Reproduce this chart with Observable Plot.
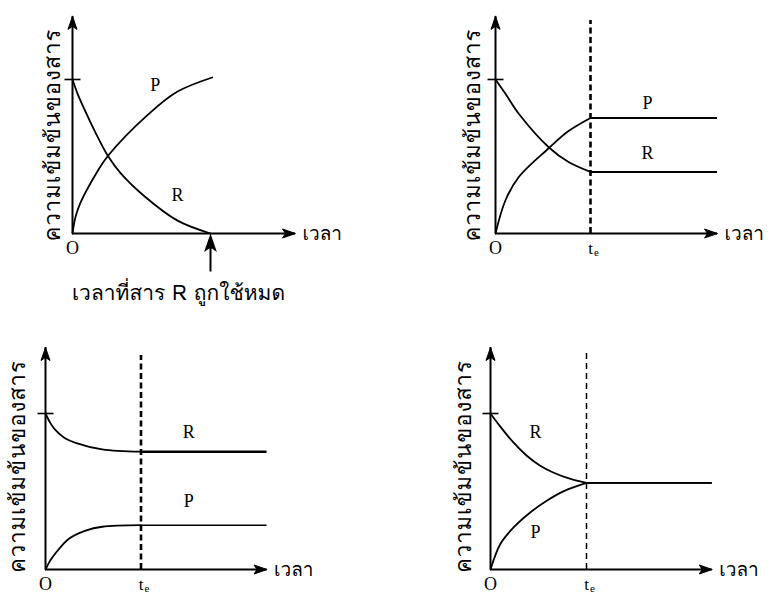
<!DOCTYPE html>
<html><head><meta charset="utf-8">
<script src="https://cdn.jsdelivr.net/npm/d3@7"></script>
<script src="https://cdn.jsdelivr.net/npm/@observablehq/plot@0.6"></script>
<style>
body{margin:0;background:#fff;}
#wrap{position:relative;width:768px;height:593px;overflow:hidden;background:#fff;}
#wrap > svg{position:absolute;}
</style></head><body><div id="wrap"></div>
<script>
// ---- texts ----
const yLabel = "ความเข้มข้นของสาร";
const xLabel = "เวลา";
const note1 = "เวลาที่สาร R ถูกใช้หมด";

// ---- data (time: t_e or time R used up = 1 ; concentration: initial [R] = 1) ----
// Panel 1: reaction goes to completion
const p1R_t = [0, 0.04, 0.1, 0.175, 0.256, 0.35, 0.517, 0.758, 1.0];
const p1R_c = [1, 0.9, 0.78, 0.64, 0.505, 0.39, 0.245, 0.085, 0];
const p1P_t = [0, 0.022, 0.058, 0.176, 0.256, 0.551, 0.758, 1.012];
const p1P_c = [0, 0.108, 0.2, 0.396, 0.503, 0.775, 0.92, 1.013];
// Panel 2: equilibrium, [P] > [R]
const p2R_t = [0, 0.105, 0.245, 0.566, 0.769, 1];
const p2R_c = [1, 0.907, 0.778, 0.557, 0.464, 0.40];
const p2P_t = [0, 0.105, 0.245, 0.566, 0.769, 1];
const p2P_c = [0, 0.216, 0.367, 0.557, 0.665, 0.75];
// Panel 3: equilibrium, [R] > [P]
const p3R_t = [0, 0.05, 0.105, 0.2, 0.315, 0.594, 1];
const p3R_c = [1, 0.94, 0.893, 0.843, 0.812, 0.77, 0.755];
const p3P_t = [0, 0.05, 0.105, 0.245, 0.42, 0.594, 1];
const p3P_c = [0, 0.058, 0.104, 0.197, 0.249, 0.274, 0.284];
// Panel 4: equilibrium, [R] = [P]
const p4R_t = [0, 0.097, 0.236, 0.375, 0.514, 0.653, 0.826, 1];
const p4R_c = [1, 0.92, 0.816, 0.731, 0.667, 0.622, 0.582, 0.555];
const p4P_t = [0, 0.104, 0.243, 0.417, 0.59, 0.764, 1];
const p4P_c = [0, 0.165, 0.271, 0.367, 0.442, 0.502, 0.555];

// label anchors [text, t, c]
const p1Labels = [["P", 0.6, 0.96], ["R", 0.76, 0.25]];
const p2Labels = [["P", 1.6, 0.844], ["R", 1.6, 0.518]];
const p3Labels = [["R", 1.5, 0.88], ["P", 1.5, 0.44]];
const p4Labels = [["R", 0.47, 0.88], ["P", 0.47, 0.24]];

const zip = (T, C) => T.map((t, i) => ({t, c: C[i]}));

// ---- symbols ----
const arrowHead = {draw(ctx){ ctx.moveTo(0,0); ctx.lineTo(4.5,13); ctx.lineTo(0,10); ctx.lineTo(-4.5,13); ctx.closePath(); }};
const longArrow = {draw(ctx){ ctx.moveTo(0,0); ctx.lineTo(4.5,13); ctx.lineTo(0,10); ctx.lineTo(-4.5,13); ctx.closePath(); ctx.moveTo(0,10); ctx.lineTo(0,35); }};
const tickMark = {draw(ctx){ ctx.moveTo(-8,0); ctx.lineTo(8,0); }};

const serif = "'Liberation Serif','DejaVu Serif',serif";
const thai = "'Norasi','Kinnari','Loma','Garuda','Noto Serif Thai','Noto Sans Thai','Noto Sans',sans-serif";

const panels = [
  {left:0, top:0, w:384, h:305, ox:72, oy:233, tx:138, cy:154, tEnd:1.616, cEnd:1.41,
   R:zip(p1R_t,p1R_c), P:zip(p1P_t,p1P_c), labels:p1Labels, yDx:-20, yC:0.64, complete:true},
  {left:384, top:0, w:384, h:305, ox:495, oy:233, tx:95, cy:154, tEnd:2.337, cEnd:1.41, dashTop:1.383,
   dashW:2.6, dash:"6,3.5", flatW:[2,2],
   R:zip(p2R_t,p2R_c), P:zip(p2P_t,p2P_c), labels:p2Labels, yDx:-23, yC:0.64},
  {left:0, top:300, w:384, h:293, ox:45, oy:569, tx:95.5, cy:156, tEnd:2.32, cEnd:1.423, dashTop:1.372,
   dashW:2.6, dash:"6,3.5", flatW:[2.6,1.6],
   R:zip(p3R_t,p3R_c), P:zip(p3P_t,p3P_c), labels:p3Labels, yDx:-28, yC:0.66},
  {left:384, top:300, w:384, h:293, ox:490, oy:569, tx:96, cy:156, tEnd:2.31, cEnd:1.423, dashTop:1.40,
   dashW:1.5, dash:"6,4", flatW:[1.6,1.6],
   R:zip(p4R_t,p4R_c), P:zip(p4P_t,p4P_c), labels:p4Labels, yDx:-27, yC:0.66}
];

const wrap = document.getElementById("wrap");
for (const p of panels) {
  const x0 = p.ox - p.left, y0 = p.oy - p.top;
  const marks = [
    // axes
    Plot.ruleY([0], {x1: 0, x2: p.tEnd, stroke: "black", strokeWidth: 2}),
    Plot.ruleX([0], {y1: 0, y2: p.cEnd, stroke: "black", strokeWidth: 2}),
    Plot.dot([[p.tEnd, 0]], {x: d => d[0], y: d => d[1], symbol: arrowHead, rotate: 90, fill: "black", stroke: "black", strokeWidth: 1}),
    Plot.dot([[0, p.cEnd]], {x: d => d[0], y: d => d[1], symbol: arrowHead, fill: "black", stroke: "black", strokeWidth: 1}),
    Plot.dot([[0, 1]], {x: d => d[0], y: d => d[1], symbol: tickMark, fill: "none", stroke: "black", strokeWidth: 1.6}),
    // curves
    Plot.line(p.R, {x: "t", y: "c", curve: "catmull-rom", stroke: "black", strokeWidth: 1.8}),
    Plot.line(p.P, {x: "t", y: "c", curve: "catmull-rom", stroke: "black", strokeWidth: 1.8}),
    // axis texts
    Plot.text([xLabel], {x: p.tEnd, y: 0, dx: 7, textAnchor: "start", fontSize: 19, fontFamily: thai, fill: "black"}),
    Plot.text(["O"], {x: 0, y: 0, dy: 15, fontSize: 18, fontFamily: serif, fill: "black"}),
    Plot.text([yLabel], {x: 0, y: p.yC, dx: p.yDx, rotate: -90, fontSize: 22, fontFamily: thai, fill: "black"}),
    Plot.text(p.labels, {x: d => d[1], y: d => d[2], text: d => d[0], fontSize: 18, fontFamily: serif, fill: "black"})
  ];
  if (p.complete) {
    marks.push(
      Plot.dot([[1, 0]], {x: d => d[0], y: d => d[1], dy: 3, symbol: longArrow, fill: "black", stroke: "black", strokeWidth: 2}),
      Plot.text([note1], {x: 1, y: 0, dx: -32, dy: 60, fontSize: 21, fontFamily: thai, fill: "black"})
    );
  } else {
    const rEnd = p.R[p.R.length - 1].c, pEnd = p.P[p.P.length - 1].c;
    marks.push(
      Plot.ruleX([1], {y1: 0, y2: p.dashTop, stroke: "black", strokeWidth: p.dashW, strokeDasharray: p.dash}),
      Plot.ruleY([rEnd], {x1: 1, x2: p.tEnd, stroke: "black", strokeWidth: p.flatW[0]}),
      Plot.ruleY([pEnd], {x1: 1, x2: p.tEnd, stroke: "black", strokeWidth: p.flatW[1]}),
      Plot.text(["t"], {x: 1, y: 0, dy: 15, fontSize: 17, fontFamily: serif, fill: "black"}),
      Plot.text(["e"], {x: 1, y: 0, dx: 6, dy: 19, fontSize: 11, fontFamily: serif, fill: "black"})
    );
  }
  const svg = Plot.plot({
    width: p.w, height: p.h,
    margin: 0,
    x: {domain: [0, 1], range: [x0, x0 + p.tx], axis: null},
    y: {domain: [0, 1], range: [y0, y0 - p.cy], axis: null},
    style: {background: "transparent", overflow: "visible"},
    marks
  });
  // widen the rotated axis title a little, as in the reference
  d3.select(svg).selectAll("text").filter(function(){ return this.textContent === yLabel; })
    .attr("letter-spacing", "1");
  svg.style.left = p.left + "px";
  svg.style.top = p.top + "px";
  wrap.appendChild(svg);
}
</script></body></html>
